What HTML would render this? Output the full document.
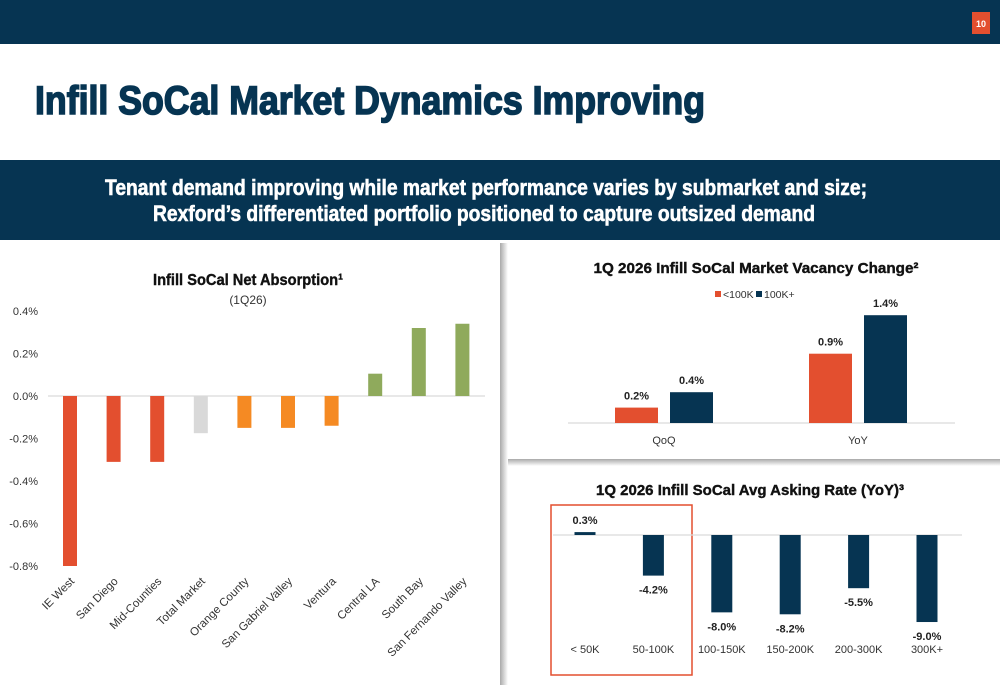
<!DOCTYPE html>
<html><head><meta charset="utf-8"><style>
html,body{margin:0;padding:0;background:#fff;}
svg{display:block;font-family:"Liberation Sans",sans-serif;}
</style></head><body>
<svg id="page" width="1000" height="685" viewBox="0 0 1000 685" xmlns="http://www.w3.org/2000/svg">
<defs>
<linearGradient id="vsh" x1="0" x2="1" y1="0" y2="0"><stop offset="0" stop-color="#a9a9a9"/><stop offset="1" stop-color="#ffffff"/></linearGradient>
<linearGradient id="hsh" x1="0" x2="0" y1="0" y2="1"><stop offset="0" stop-color="#a9a9a9"/><stop offset="1" stop-color="#ffffff"/></linearGradient>
</defs>
<rect x="0" y="0" width="1000" height="44" fill="#063452"/>
<rect x="972" y="12" width="18" height="22" fill="#e34f2f"/>
<text x="981" y="27" font-size="9" font-weight="bold" fill="#fff" text-anchor="middle">10</text>
<text x="35" y="114" font-size="40" font-weight="bold" fill="#063452" stroke="#063452" stroke-width="1.6" textLength="670" lengthAdjust="spacingAndGlyphs">Infill SoCal Market Dynamics Improving</text>
<rect x="0" y="160" width="1000" height="80" fill="#063452"/>
<text x="486" y="195" font-size="22" font-weight="bold" fill="#fff" stroke="#fff" stroke-width="0.6" text-anchor="middle" textLength="762" lengthAdjust="spacingAndGlyphs">Tenant demand improving while market performance varies by submarket and size;</text>
<text x="484" y="221" font-size="22" font-weight="bold" fill="#fff" stroke="#fff" stroke-width="0.6" text-anchor="middle" textLength="662" lengthAdjust="spacingAndGlyphs">Rexford’s differentiated portfolio positioned to capture outsized demand</text>
<rect x="500" y="243" width="8" height="442" fill="url(#vsh)"/>
<rect x="508" y="459" width="492" height="7" fill="url(#hsh)"/>

<g id="absorption">
<text x="248" y="285" font-size="16" font-weight="bold" fill="#111" stroke="#111" stroke-width="0.4" text-anchor="middle" textLength="190" lengthAdjust="spacingAndGlyphs">Infill SoCal Net Absorption¹</text>
<text x="248" y="304" font-size="12" fill="#333" text-anchor="middle">(1Q26)</text>
</g>
<g id="vacancy">
<text x="756" y="273" font-size="15" font-weight="bold" fill="#111" stroke="#111" stroke-width="0.4" text-anchor="middle" textLength="325" lengthAdjust="spacingAndGlyphs">1Q 2026 Infill SoCal Market Vacancy Change²</text>
</g>
<g id="asking">
<text x="750" y="495" font-size="15" font-weight="bold" fill="#111" stroke="#111" stroke-width="0.4" text-anchor="middle" textLength="308" lengthAdjust="spacingAndGlyphs">1Q 2026 Infill SoCal Avg Asking Rate (YoY)³</text>
<rect x="551" y="505" width="141" height="170" fill="none" stroke="#e34f2f" stroke-width="1.5"/>
</g>
</svg>
<script>
const NS='http://www.w3.org/2000/svg';
// Net absorption data
const absCats=['IE West','San Diego','Mid-Counties','Total Market','Orange County','San Gabriel Valley','Ventura','Central LA','South Bay','San Fernando Valley'];
const absVals=[-0.80,-0.31,-0.31,-0.175,-0.15,-0.15,-0.14,0.105,0.32,0.34];
const absGroup=['red','red','red','gray','orange','orange','orange','green','green','green'];
const absTicks=[0.4,0.2,0.0,-0.2,-0.4,-0.6,-0.8];
// Vacancy data
const vacCats=['QoQ','YoY'];
const vacSmall=[0.2,0.9];
const vacLarge=[0.4,1.4];
// Asking rate data
const askCats=['< 50K','50-100K','100-150K','150-200K','200-300K','300K+'];
const askVals=[0.3,-4.2,-8.0,-8.2,-5.5,-9.0];

function mk(tag,attrs,parent,text){const e=document.createElementNS(NS,tag);for(const k in attrs)e.setAttribute(k,attrs[k]);if(text!==undefined)e.textContent=text;parent.appendChild(e);return e;}
const colors={red:'#e34f2f',gray:'#d9d9d9',orange:'#f58a23',green:'#8faa5c'};

// Absorption chart
(function(){
const g=document.getElementById('absorption');
const y=v=>396-v*(85/0.4);
const x=i=>70+i*43.6;
mk('line',{x1:48,x2:485,y1:y(0),y2:y(0),stroke:'#e0e0e0','stroke-width':1.5},g);
absTicks.forEach(t=>{
const el=mk('text',{x:38,y:y(t)+4,'font-size':11,fill:'#333','text-anchor':'end'},g,t.toFixed(1)+'%');


});
absVals.forEach((v,i)=>{
const r=mk('rect',{x:x(i)-7,y:Math.min(y(v),y(0)),width:14,height:Math.abs(y(v)-y(0)),fill:colors[absGroup[i]]},g);


const t=mk('text',{x:x(i)+5,y:582,'font-size':11.5,fill:'#333','text-anchor':'end',transform:`rotate(-45 ${x(i)+5} 582)`},g,absCats[i]);


});
})();

// Vacancy chart
(function(){
const g=document.getElementById('vacancy');
const y=v=>423-v*77;
const cx=i=>664+i*194;
mk('line',{x1:568,x2:955,y1:423,y2:423,stroke:'#d9d9d9','stroke-width':1.2},g);
const l1=mk('rect',{x:715,y:291,width:6,height:6,fill:'#e34f2f'},g);


const lt1=mk('text',{x:723,y:298,'font-size':10.5,fill:'#333'},g,'<100K');


const l2=mk('rect',{x:756,y:291,width:6,height:6,fill:'#063452'},g);


const lt2=mk('text',{x:764,y:298,'font-size':10.5,fill:'#333'},g,'100K+');


vacCats.forEach((c,i)=>{
[[vacSmall[i],'#e34f2f',-49,'small'],[vacLarge[i],'#063452',6,'large']].forEach(([v,col,off,nm])=>{
const r=mk('rect',{x:cx(i)+off,y:y(v),width:43,height:423-y(v),fill:col},g);


const t=mk('text',{x:cx(i)+off+21.5,y:y(v)-8,'font-size':11,'font-weight':'bold',fill:'#222','text-anchor':'middle'},g,v.toFixed(1)+'%');


});
const t=mk('text',{x:cx(i),y:444,'font-size':11,fill:'#333','text-anchor':'middle'},g,c);


});
})();

// Asking rate chart
(function(){
const g=document.getElementById('asking');
const y=v=>535-v*9.67;
const cx=i=>585+i*68.4;
mk('line',{x1:553,x2:962,y1:535,y2:535,stroke:'#d9d9d9','stroke-width':1.2},g);
askVals.forEach((v,i)=>{
const h=Math.max(Math.abs(y(v)-535),2.5);
const r=mk('rect',{x:cx(i)-10.5,y:v>0?535-h:535,width:21,height:h,fill:'#063452'},g);


const ly=v>0?y(v)-8:y(v)+18;
const t=mk('text',{x:cx(i),y:Math.min(ly,640),'font-size':11,'font-weight':'bold',fill:'#222','text-anchor':'middle'},g,v.toFixed(1)+'%');


const c=mk('text',{x:cx(i),y:653,'font-size':11,fill:'#333','text-anchor':'middle'},g,askCats[i]);


});
})();
</script>
</body></html>
